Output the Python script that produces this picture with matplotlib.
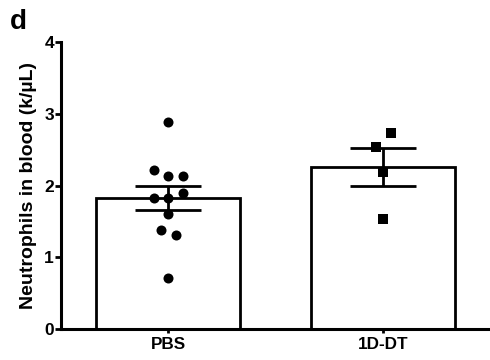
import numpy as np
import matplotlib
matplotlib.use("Agg")
from matplotlib import pyplot as plt

# groups and individual values
groups = ["PBS", "1D-DT"]
pbs_vals = [2.88, 2.22, 2.14, 2.14, 1.83, 1.83, 1.89, 1.60, 1.38, 1.31, 0.71]
pbs_offsets = [0.0, -0.067, 0.0, 0.067, -0.067, 0.0, 0.067, 0.0, -0.033, 0.033, 0.0]
dt_vals = [2.73, 2.54, 2.19, 1.54]
dt_offsets = [0.033, -0.033, 0.0, 0.0]

bar_means = [1.826, 2.26]
bar_sems = [0.165, 0.262]


def main():
	plt.rcParams['font.family'] = ['Liberation Sans', 'DejaVu Sans']
	plt.rcParams['font.weight'] = 'bold'

	fig = plt.figure(figsize=(4.9, 3.6), dpi=100)
	ax = fig.add_axes([0.1245, 0.086, 0.873, 0.797])

	x = np.arange(len(groups))
	ax.bar(x, bar_means, width=0.67, color='white', edgecolor='black',
		linewidth=2.0, zorder=1)

	# individual points
	ax.scatter(x[0] + np.array(pbs_offsets), pbs_vals, s=52, marker='o',
		color='black', zorder=3, linewidths=0)
	ax.scatter(x[1] + np.array(dt_offsets), dt_vals, s=50, marker='s',
		color='black', zorder=3, linewidths=0)

	# mean +/- SEM
	ax.errorbar(x, bar_means, yerr=bar_sems, fmt='none', ecolor='black',
		elinewidth=2.0, capsize=24, capthick=2.0, zorder=4)

	ax.set_xlim(-0.5, 1.49)
	ax.set_ylim(0, 4)
	ax.set_yticks([0, 1, 2, 3, 4])
	ax.set_xticks(x)
	ax.set_xticklabels(groups, fontsize=12.3, fontweight='bold')
	ax.tick_params(axis='y', labelsize=12.5, width=2, length=4, pad=1)
	ax.tick_params(axis='x', width=2, length=3, pad=3)

	for s in ['top', 'right']:
		ax.spines[s].set_visible(False)
	for s in ['left', 'bottom']:
		ax.spines[s].set_linewidth(2.2)

	ax.set_ylabel('Neutrophils in blood (k/\u00b5L)', fontsize=14,
		fontweight='bold', labelpad=5)

	fig.text(0.02, 0.975, 'd', fontsize=20, fontweight='bold', va='top')

	fig.savefig('out.png', dpi=100)


if __name__ == '__main__':
	main()
